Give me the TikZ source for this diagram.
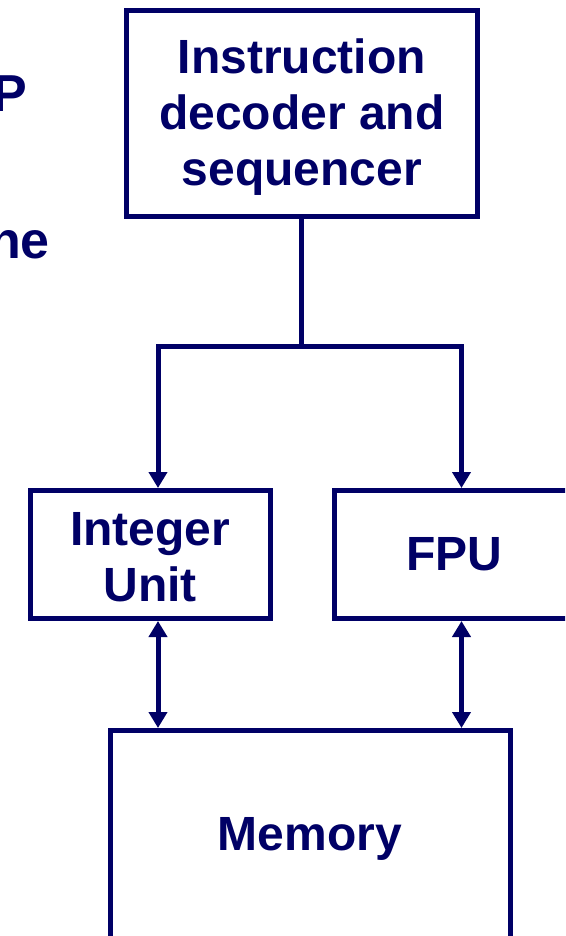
\documentclass[tikz,border=0pt]{standalone}
\usepackage{fontspec}
\setmainfont{Liberation Sans}
\usetikzlibrary{arrows.meta}
\definecolor{navy}{RGB}{0,0,102}
\begin{document}
\begin{tikzpicture}[x=1pt,y=-1pt,
  box/.style={draw=navy,line width=5pt,inner sep=0pt,align=center,
    text=navy,font=\fontsize{48}{56}\selectfont\bfseries},
  conn/.style={draw=navy,line width=5pt,line join=miter},
  tipA/.style={-{Triangle[length=16pt,width=18pt]}},
  tipB/.style={{Triangle[length=16pt,width=18pt]}-{Triangle[length=16pt,width=18pt]}},
  side/.style={text=navy,inner sep=0pt,anchor=base east,font=\fontsize{52}{60}\selectfont\bfseries}]
\clip (0,0) rectangle (565,936);
\fill[white] (0,0) rectangle (565,936);
\node[box,minimum width=351.5pt,minimum height=206pt] (dec) at (301.75,113.5) {};
\node[text=navy,align=center,inner sep=0pt,font=\fontsize{48}{56}\selectfont\bfseries] (dect) at (301.75,117) {Instruction\\decoder and\\sequencer};
\node[box,minimum width=239.4pt,minimum height=128pt] (intu) at (150.3,554.5) {};
\node[text=navy,align=center,inner sep=0pt,font=\fontsize{48}{56}\selectfont\bfseries] (intut) at (150.3,557) {Integer\\Unit};
\node[box,minimum width=240pt,minimum height=128pt] (fpu) at (454,554.5) {FPU};
\node[box,minimum width=400pt,minimum height=209.5pt] (mem) at (310,835.25) {};
\node[text=navy,inner sep=0pt,font=\fontsize{48}{56}\selectfont\bfseries] (memt) at (310,839) {Memory};
\node[side] (p) at (27,112) {P};
\node[side] (ne) at (50,258) {ne};
\coordinate (j) at (301.75,346);
\coordinate (bl) at (158,346);
\coordinate (br) at (461.5,346);
\draw[conn] (dec.south) -- (j);
\draw[conn,tipA] (j) -| (bl |- intu.north);
\draw[conn,tipA] (j) -| (br |- fpu.north);
\draw[conn,tipB] (bl |- intu.south) -- (bl |- mem.north);
\draw[conn,tipB] (br |- fpu.south) -- (br |- mem.north);
\end{tikzpicture}
\end{document}
